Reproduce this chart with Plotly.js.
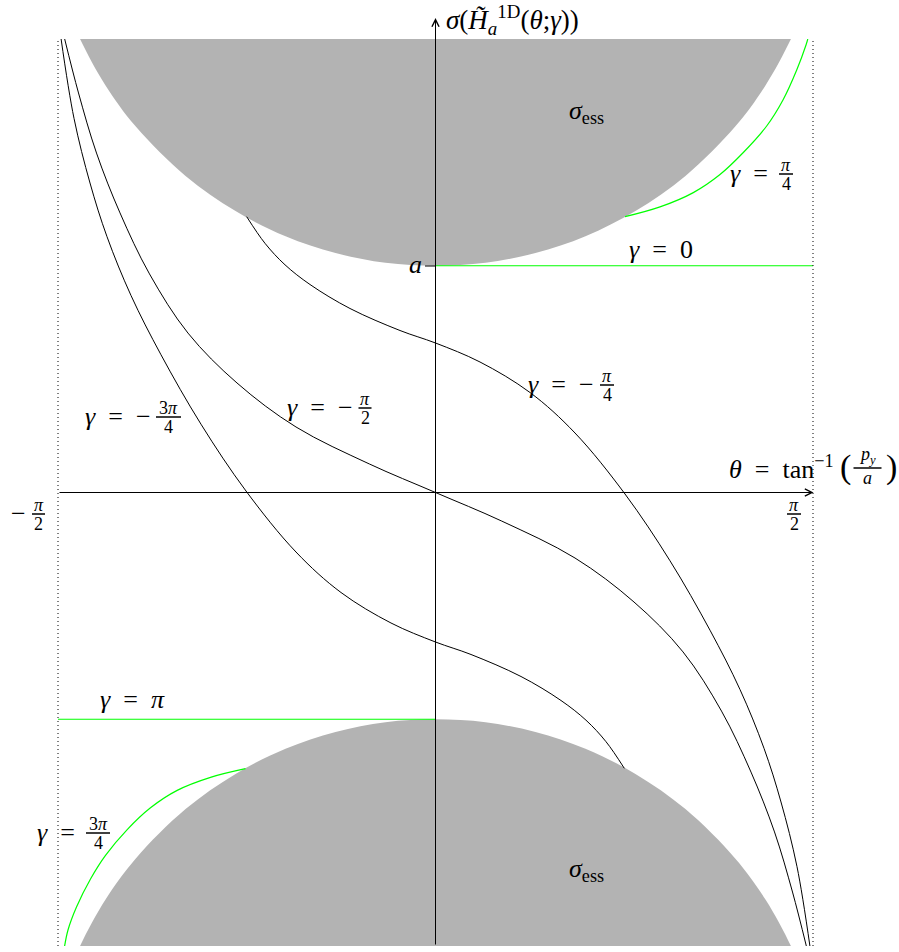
<!DOCTYPE html>
<html><head><meta charset="utf-8">
<script src="https://cdn.plot.ly/plotly-3.0.1.min.js"></script>
<style>html,body{margin:0;padding:0;background:#fff}#chart{width:899px;height:952px}</style>
</head><body><div id="chart"></div>
<script>
// theta = atan(p_y / a) in radians, sigma in units of a
const essTheta = [-1.540,-1.479,-1.373,-1.248,-1.040,-0.832,-0.624,-0.416,-0.208,0,0.208,0.416,0.624,0.832,1.040,1.248,1.373,1.479,1.540];
const essUpper = [2.157,2.0,1.795,1.615,1.396,1.241,1.130,1.056,1.013,1.0,1.013,1.056,1.130,1.241,1.396,1.615,1.795,2.0,2.157];
const essLower = [-2.157,-2.0,-1.795,-1.615,-1.396,-1.241,-1.130,-1.056,-1.013,-1.0,-1.013,-1.056,-1.130,-1.241,-1.396,-1.615,-1.795,-2.0,-2.157];

// gamma = -pi/4
const gMinusPi4Theta = [-0.7856,-0.7095,-0.6262,-0.5222,-0.3558,-0.1477,0,0.1852,0.3932,0.5805,0.7885,0.9758,1.1422,1.2670,1.3669,1.4376,1.5042,1.5583];
const gMinusPi4Sigma = [1.2163,1.0990,1.0042,0.9173,0.8115,0.7144,0.6593,0.5755,0.4410,0.2624,-0.0066,-0.3012,-0.6073,-0.8688,-1.1281,-1.3649,-1.6502,-2.0031];
// gamma = -3pi/4
const gMinus3Pi4Theta = [-1.5583,-1.5042,-1.4376,-1.3669,-1.2670,-1.1422,-0.9758,-0.7885,-0.5805,-0.3932,-0.1852,0,0.1477,0.3558,0.5222,0.6262,0.7095,0.7856];
const gMinus3Pi4Sigma = [2.0031,1.6502,1.3649,1.1281,0.8688,0.6073,0.3012,0.0066,-0.2624,-0.4410,-0.5755,-0.6593,-0.7144,-0.8115,-0.9173,-1.0042,-1.0990,-1.2163];
// gamma = -pi/2
const gMinusPi2Theta = [-1.5437,-1.4855,-1.4106,-1.3128,-1.1901,-1.0299,-0.8260,-0.5805,-0.2755,0,0.2755,0.5805,0.8260,1.0299,1.1901,1.3128,1.4106,1.4855,1.5437];
const gMinusPi2Sigma = [2.003,1.762,1.497,1.233,0.964,0.703,0.483,0.289,0.126,0,-0.126,-0.289,-0.483,-0.703,-0.964,-1.233,-1.497,-1.762,-2.003];
// gamma = pi/4
const gPi4Theta = [0.7885,0.9341,1.0727,1.1838,1.2808,1.3781,1.4459,1.5030,1.5417,1.5491];
const gPi4Sigma = [1.2163,1.2595,1.3226,1.4024,1.4994,1.6163,1.7310,1.8633,1.9735,2.0000];
// gamma = 3pi/4
const g3Pi4Theta = [-0.7906,-0.9362,-1.0748,-1.1859,-1.2828,-1.3731,-1.4355,-1.4938,-1.5292,-1.5437];
const g3Pi4Sigma = [-1.2181,-1.2564,-1.3138,-1.3905,-1.4866,-1.6004,-1.7045,-1.8280,-1.9294,-2.0031];
// gamma = 0 and gamma = pi
const gZeroTheta = [0, 1.5708];
const gZeroSigma = [1, 1];
const gPiTheta = [-1.5708, 0];
const gPiSigma = [-1, -1];

const GRAY = '#b3b3b3', GREEN = '#00ff00', BLACK = '#000000';
const FONT = 'Liberation Serif, DejaVu Serif, serif';

const traces = [
  {x: essTheta, y: essUpper, mode: 'lines', fill: 'toself', fillcolor: GRAY, line: {width: 0, color: GRAY, shape: 'spline'}},
  {x: essTheta, y: essLower, mode: 'lines', fill: 'toself', fillcolor: GRAY, line: {width: 0, color: GRAY, shape: 'spline'}},
  {x: gMinusPi4Theta, y: gMinusPi4Sigma, mode: 'lines', line: {color: BLACK, width: 1, shape: 'spline', smoothing: 1}},
  {x: gMinus3Pi4Theta, y: gMinus3Pi4Sigma, mode: 'lines', line: {color: BLACK, width: 1, shape: 'spline', smoothing: 1}},
  {x: gMinusPi2Theta, y: gMinusPi2Sigma, mode: 'lines', line: {color: BLACK, width: 1, shape: 'spline', smoothing: 1}},
  {x: gPi4Theta, y: gPi4Sigma, mode: 'lines', line: {color: GREEN, width: 1.2, shape: 'spline', smoothing: 1}},
  {x: g3Pi4Theta, y: g3Pi4Sigma, mode: 'lines', line: {color: GREEN, width: 1.2, shape: 'spline', smoothing: 1}},
  {x: gZeroTheta, y: gZeroSigma, mode: 'lines', line: {color: GREEN, width: 1.2}},
  {x: gPiTheta, y: gPiSigma, mode: 'lines', line: {color: GREEN, width: 1.2}}
];

const W = 899, H = 952, L = 58, R = 86, T = 39, B = 6;
const pw = W - L - R, ph = H - T - B;
const px = v => (v - L) / pw, py = v => (H - B - v) / ph;
const annotations = [], shapes = [];
const SP = '\u2002';
function txt(text, x, y, size, xa) {
  annotations.push({xref: 'paper', yref: 'paper', x: px(x), y: py(y), text: text, showarrow: false,
    xanchor: xa || 'center', yanchor: 'middle', font: {family: FONT, size: size, color: BLACK}});
}
function frac(num, den, cx, bar, w, nOff) {
  txt(num, cx, bar - (nOff || 9), 18);
  txt(den, cx, bar + 9.5, 18);
  shapes.push({type: 'line', xref: 'paper', yref: 'paper', x0: px(cx - w / 2), x1: px(cx + w / 2),
    y0: py(bar), y1: py(bar), line: {color: BLACK, width: 1.5}});
}

// labels
txt('<i>γ</i>' + SP + '=' + SP + '0', 661, 249, 26);
txt('<i>γ</i>' + SP + '=', 770, 173, 26, 'right'); frac('<i>π</i>', '4', 786, 174, 14);
txt('<i>γ</i>' + SP + '=' + SP + '−', 596, 384, 26, 'right'); frac('<i>π</i>', '4', 607, 385, 14);
txt('<i>γ</i>' + SP + '=' + SP + '−', 355, 407, 26, 'right'); frac('<i>π</i>', '2', 365, 408, 13);
txt('<i>γ</i>' + SP + '=' + SP + '−', 153, 416, 26, 'right'); frac('3<i>π</i>', '4', 168.5, 417, 25);
txt('<i>γ</i>' + SP + '=' + SP + '<i>π</i>', 132, 699, 26);
txt('<i>γ</i>' + SP + '=', 77, 832, 26, 'right'); frac('3<i>π</i>', '4', 98, 833, 24);
txt('<i>σ</i><sub>ess</sub>', 586, 112, 26);
txt('<i>σ</i><sub>ess</sub>', 586, 870, 26);
txt('<i>a</i>', 424, 264, 26, 'right');
txt('−', 18, 513, 26); frac('<i>π</i>', '2', 38.5, 514, 13);
frac('<i>π</i>', '2', 794, 514, 14);
txt('<i>θ</i>' + SP + '=' + SP + 'tan<sup>−1</sup>', 836, 467, 26, 'right');
txt('(', 846, 467, 34); txt(')', 891, 467, 34);
frac('<i>p<sub>y</sub></i>', '<i>a</i>', 867.5, 468, 28, 12);
txt('<i>σ</i>(<i>H̃</i><sub><i>a</i></sub><sup>1D</sup>(<i>θ</i>;<i>γ</i>))', 444, 20, 27, 'left');

// axes with arrows
annotations.push({xref: 'paper', yref: 'paper', x: px(813.5), y: py(492.5), ax: -(813.5 - L), ay: 0,
  axref: 'pixel', ayref: 'pixel', text: '', showarrow: true, arrowhead: 5, arrowsize: 1.4, arrowwidth: 1, arrowcolor: BLACK});
annotations.push({xref: 'paper', yref: 'paper', x: px(435.5), y: py(18), ax: 0, ay: (H - B) - 18,
  axref: 'pixel', ayref: 'pixel', text: '', showarrow: true, arrowhead: 5, arrowsize: 1.4, arrowwidth: 1, arrowcolor: BLACK});
// tick at a
shapes.push({type: 'line', xref: 'paper', yref: 'paper', x0: px(425), x1: px(435.5), y0: py(266), y1: py(266), line: {color: BLACK, width: 1}});
// dotted bounds at ±π/2
shapes.push({type: 'line', xref: 'paper', yref: 'paper', x0: 0, x1: 0, y0: 0, y1: 1, line: {color: BLACK, width: 1, dash: '1px,3px'}});
shapes.push({type: 'line', xref: 'paper', yref: 'paper', x0: 1, x1: 1, y0: 0, y1: 1, line: {color: BLACK, width: 1, dash: '1px,3px'}});

const axisCommon = {showgrid: false, zeroline: false, showline: false, showticklabels: false, ticks: '', fixedrange: true};
const layout = {
  width: W, height: H, margin: {l: L, r: R, t: T, b: B, pad: 0},
  paper_bgcolor: '#fff', plot_bgcolor: '#fff', showlegend: false,
  font: {family: FONT},
  xaxis: Object.assign({range: [-Math.PI / 2, Math.PI / 2]}, axisCommon),
  yaxis: Object.assign({range: [-2, 2]}, axisCommon),
  annotations: annotations, shapes: shapes
};
Plotly.newPlot('chart', traces, layout, {staticPlot: true, displayModeBar: false});
</script></body></html>
